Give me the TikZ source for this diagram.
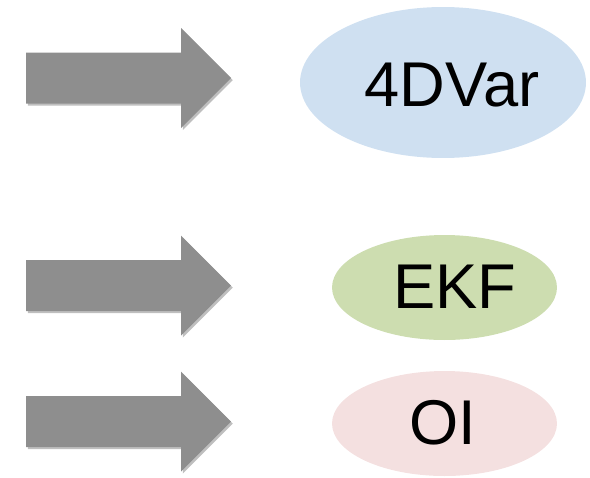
\documentclass[tikz,border=0pt]{standalone}
\usepackage{fontspec}
\setmainfont{Liberation Sans}
\usetikzlibrary{shapes.geometric,shadows}
\definecolor{dablue}{RGB}{207,224,241}
\definecolor{dagreen}{RGB}{205,221,176}
\definecolor{dapink}{RGB}{244,224,224}
\definecolor{dagray}{RGB}{142,142,142}

\begin{document}
\begin{tikzpicture}[x=0.02cm, y=-0.02cm,
  blob/.style={ellipse,inner sep=0pt},
  lbl/.style={anchor=base,inner sep=0pt,font=\fontsize{36}{40}\selectfont},
  garrow/.style={fill=dagray,draw=none,drop shadow={opacity=0.25,shadow xshift=1pt,shadow yshift=-1.2pt,fill=black}}]
  \useasboundingbox (0,0) rectangle (590,477);
  % block arrows
  \foreach \y in {78,285.5,421.5}
    \path[garrow] (26,\y-25.5) -- (181,\y-25.5) -- (181,\y-50) -- (231,\y)
      -- (181,\y+50) -- (181,\y+25.5) -- (26,\y+25.5) -- cycle;
  % methods
  \node[blob,fill=dablue,minimum width=5.72cm,minimum height=3.02cm] (var) at (443,82.5) {};
  \node[blob,fill=dagreen,minimum width=4.5cm,minimum height=2.1cm] (ekf) at (444.5,287.5) {};
  \node[blob,fill=dapink,minimum width=4.5cm,minimum height=2.1cm] (oi) at (444.5,423.5) {};
  \node[lbl] (varl) at (452,106) {4DVar};
  \node[lbl] (ekfl) at (455,308) {EKF};
  \node[lbl] (oil) at (443,444) {OI};
\end{tikzpicture}
\end{document}
